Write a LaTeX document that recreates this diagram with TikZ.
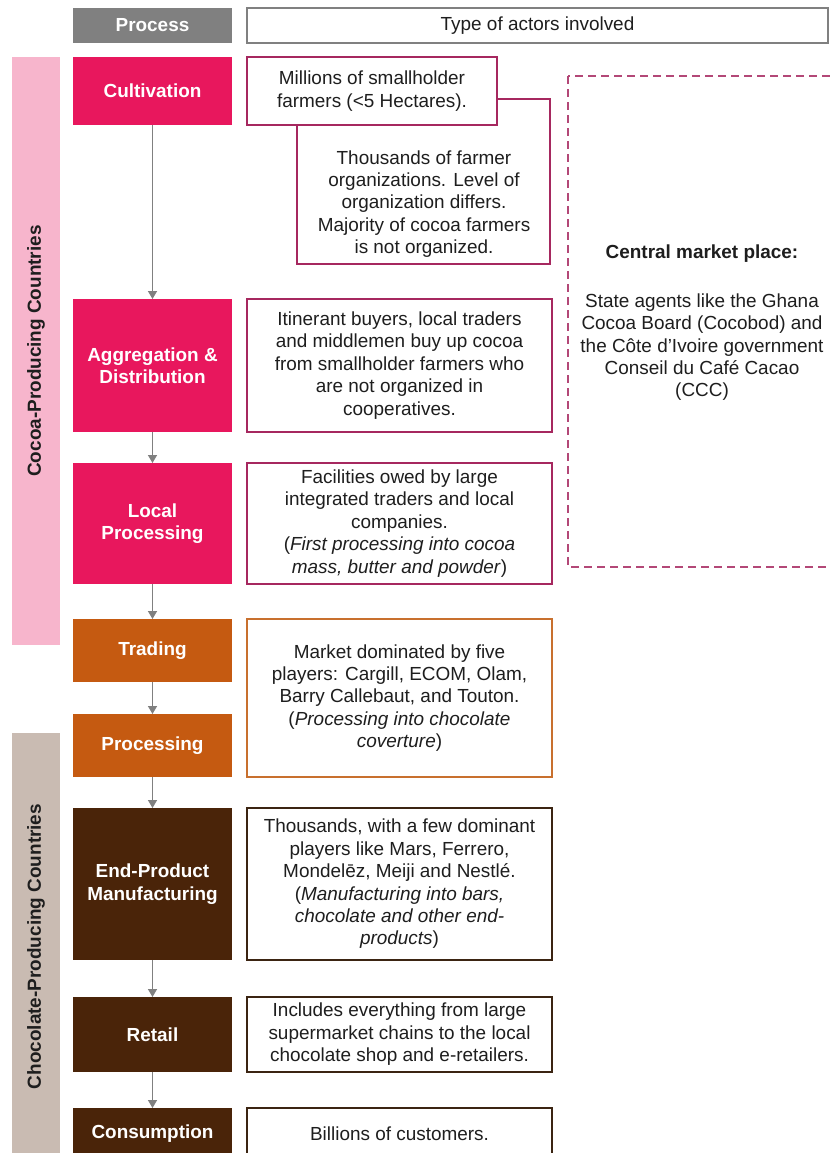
\documentclass[tikz,border=0pt]{standalone}
\usepackage{fontspec}
\setmainfont{Liberation Sans}
\usetikzlibrary{arrows.meta}
\definecolor{cocoapink}{HTML}{E8175D}
\definecolor{cocoarose}{HTML}{A6285F}
\definecolor{cocoablush}{HTML}{F7B5CC}
\definecolor{tradeorange}{HTML}{C55A11}
\definecolor{tradeline}{HTML}{C8702E}
\definecolor{chocbrown}{HTML}{4A2409}
\definecolor{chocline}{HTML}{3B2412}
\definecolor{chocsand}{HTML}{C9BBB2}
\definecolor{headgray}{HTML}{808080}
\definecolor{inkgray}{HTML}{1E1E1E}

\begin{document}
\begin{tikzpicture}[x=1bp, y=-1bp,
  every node/.style={font=\fontsize{19}{22.5}\selectfont, inner sep=0pt, outer sep=0pt, text=inkgray},
  procbox/.style={fill=#1, text=white, font=\fontsize{19}{22.5}\selectfont\bfseries, minimum width=159bp, align=center, anchor=north west},
  descbox/.style={draw=#1, line width=1.6bp, fill=white, align=center, anchor=north west},
  sidebar/.style={fill=#1, rotate=90, minimum height=48bp, font=\fontsize{19}{22.5}\selectfont\bfseries},
  flow/.style={draw=headgray, line width=1.4bp, -{Triangle[width=9bp,length=8bp]}}]
\useasboundingbox (0,0) rectangle (830,1153);
\clip (0,0) rectangle (830,1153);
\fill[white] (0,0) rectangle (830,1153);

% header
\node[procbox=headgray, minimum height=35bp] (process) at (73,8) {Process};
\node[descbox=headgray, line width=1.2bp, minimum width=581bp, minimum height=35bp] (actors) at (247,8) {Type of actors involved};

% side bars
\node[sidebar=cocoablush, minimum width=588bp] (cocoaside) at (36,351) {Cocoa-Producing Countries};
\node[sidebar=chocsand, minimum width=427bp] (chocside) at (36,946.5) {Chocolate-Producing Countries};

% process column
\node[procbox=cocoapink, minimum height=68bp] (cult) at (73,57) {Cultivation};
\node[procbox=cocoapink, minimum height=133bp] (aggr) at (73,299) {Aggregation \&\\Distribution};
\node[procbox=cocoapink, minimum height=121bp] (locproc) at (73,463) {Local\\Processing};
\node[procbox=tradeorange, minimum height=63bp] (trade) at (73,619) {Trading};
\node[procbox=tradeorange, minimum height=63bp] (proc) at (73,714) {Processing};
\node[procbox=chocbrown, minimum height=152bp] (manuf) at (73,808) {End-Product\\Manufacturing};
\node[procbox=chocbrown, minimum height=75bp] (retail) at (73,997) {Retail};
\node[procbox=chocbrown, minimum height=52bp] (consume) at (73,1108) {Consumption};

\draw[flow] (cult) -- (aggr);
\draw[flow] (aggr) -- (locproc);
\draw[flow] (locproc) -- (trade);
\draw[flow] (trade) -- (proc);
\draw[flow] (proc) -- (manuf);
\draw[flow] (manuf) -- (retail);
\draw[flow] (retail) -- (consume);

% actors column
\draw[cocoarose, line width=1.6bp, fill=white] (297,99) rectangle (550,264);
\node[align=center] (orgs) at (424,204) {Thousands of farmer\\organizations. Level of\\organization differs.\\Majority of cocoa farmers\\is not organized.};
\node[descbox=cocoarose, minimum width=250bp, minimum height=68bp] (farmers) at (247,57) {Millions of smallholder\\farmers (<5 Hectares).};
\node[descbox=cocoarose, minimum width=305bp, minimum height=133bp] (buyers) at (247,299) {Itinerant buyers, local traders\\and middlemen buy up cocoa\\from smallholder farmers who\\are not organized in\\cooperatives.};
\node[descbox=cocoarose, minimum width=305bp, minimum height=121bp] (facilities) at (247,463) {Facilities owed by large\\integrated traders and local\\companies.\\(\textit{First processing into cocoa}\\\textit{mass, butter and powder})};
\node[descbox=tradeline, minimum width=305bp, minimum height=158bp] (market) at (247,619) {Market dominated by five\\players: Cargill, ECOM, Olam,\\Barry Callebaut, and Touton.\\(\textit{Processing into chocolate}\\\textit{coverture})};
\node[descbox=chocline, minimum width=305bp, minimum height=152bp] (makers) at (247,808) {Thousands, with a few dominant\\players like Mars, Ferrero,\\Mondelēz, Meiji and Nestlé.\\(\textit{Manufacturing into bars,}\\\textit{chocolate and other end-}\\\textit{products})};
\node[descbox=chocline, minimum width=305bp, minimum height=75bp] (shops) at (247,997) {Includes everything from large\\supermarket chains to the local\\chocolate shop and e-retailers.};
\node[descbox=chocline, minimum width=305bp, minimum height=52bp] (customers) at (247,1108) {Billions of customers.};

% central market place
\draw[cocoarose!85, line width=1.6bp, dash pattern=on 8bp off 5bp] (568,76) rectangle (845,567);
\node[align=center] (central) at (702,323) {\textbf{Central market place:}\\[26bp]State agents like the Ghana\\Cocoa Board (Cocobod) and\\the Côte d’Ivoire government\\Conseil du Café Cacao\\(CCC)};
\end{tikzpicture}
\end{document}
